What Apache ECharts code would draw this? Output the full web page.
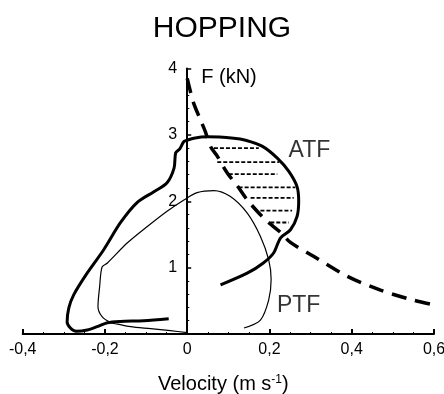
<!DOCTYPE html>
<html>
<head>
<meta charset="utf-8">
<script src="https://cdn.jsdelivr.net/npm/echarts@6/dist/echarts.min.js"></script>
<style>
  html, body { margin: 0; padding: 0; background: #fff; }
  #chart { width: 444px; height: 394px; }
</style>
</head>
<body>
<div id="chart"></div>
<script>
// Force–velocity loops during hopping (velocity in m/s, force in kN)

// Achilles tendon force loop (thick solid)
const atfLoop = [
  [-0.045, 0.23], [-0.106, 0.20], [-0.163, 0.19], [-0.194, 0.17], [-0.219, 0.11],
  [-0.243, 0.06], [-0.270, 0.04], [-0.284, 0.09], [-0.292, 0.18], [-0.288, 0.39],
  [-0.276, 0.59], [-0.243, 0.92], [-0.203, 1.27], [-0.162, 1.68], [-0.122, 1.98],
  [-0.082, 2.14], [-0.049, 2.28], [-0.032, 2.50], [-0.028, 2.73], [-0.018, 2.79],
  [-0.008, 2.90], [0.000, 2.92], [0.016, 2.95], [0.049, 2.97], [0.113, 2.95],
  [0.142, 2.92], [0.182, 2.83], [0.219, 2.65], [0.247, 2.45], [0.267, 2.22],
  [0.271, 2.00], [0.267, 1.77], [0.251, 1.57], [0.227, 1.45], [0.210, 1.22],
  [0.185, 1.07], [0.147, 0.92], [0.081, 0.74]
];

// Patellar tendon force loop (thin solid)
const ptfLoop = [
  [0.138, 0.09], [0.178, 0.21], [0.198, 0.51], [0.204, 0.82], [0.198, 1.12],
  [0.178, 1.47], [0.146, 1.82], [0.105, 2.07], [0.065, 2.16], [0.024, 2.13],
  [-0.008, 2.02], [-0.049, 1.85], [-0.097, 1.62], [-0.146, 1.37], [-0.194, 1.07],
  [-0.207, 1.01], [-0.213, 0.71], [-0.217, 0.41], [-0.207, 0.26], [-0.186, 0.17],
  [-0.170, 0.15], [-0.138, 0.11], [-0.089, 0.08], [-0.041, 0.05], [0.000, 0.02]
];

// Force–velocity relation (thick dashed)
const fvCurve = [
  [0.000, 3.85], [0.015, 3.49], [0.032, 3.23], [0.044, 3.05], [0.057, 2.82],
  [0.073, 2.68], [0.097, 2.43], [0.122, 2.23], [0.146, 2.02], [0.170, 1.85],
  [0.194, 1.70], [0.227, 1.53], [0.251, 1.38], [0.307, 1.17], [0.389, 0.87],
  [0.470, 0.66], [0.550, 0.51], [0.599, 0.44]
];

// Hatching between the relation and the ATF loop: level, left end, right end
const hatchLevels = [2.80, 2.59, 2.41, 2.21, 2.05, 1.86, 1.68];
const hatchLeft   = [0.065, 0.073, 0.101, 0.125, 0.154, 0.178, 0.202];
const hatchRight  = [0.174, 0.223, 0.219, 0.263, 0.259, 0.255, 0.247];

// Curve labels
const curveLabels = [
  { name: 'ATF', value: [0.297, 2.76] },
  { name: 'PTF', value: [0.271, 0.42] }
];

const xTickLabels = ['-0,4', '-0,2', '0', '0,2', '0,4', '0,6'];
const yTickLabels = ['', '1', '2', '3', '4'];

const X_MIN = -0.4, X_MAX = 0.6;
const GRID_LEFT = 22.7, GRID_RIGHT = 10;
const CHART_W = 444;

const hatchData = [];
hatchLevels.forEach((y, i) => {
  hatchData.push([hatchLeft[i], y], [hatchRight[i], y], [null, null]);
});

// The force axis stands at zero velocity, so shift it from the grid edge
const plotW = CHART_W - GRID_LEFT - GRID_RIGHT;
const yAxisShift = plotW * (0 - X_MIN) / (X_MAX - X_MIN);

const FONT = 'Liberation Sans, Arial, sans-serif';
const chart = echarts.init(document.getElementById('chart'), null, { renderer: 'canvas' });

chart.setOption({
  animation: false,
  backgroundColor: '#ffffff',
  title: {
    text: 'HOPPING',
    left: 'center',
    top: 9,
    textStyle: { fontFamily: FONT, fontSize: 30, fontWeight: 'normal', color: '#000' }
  },
  grid: {
    left: GRID_LEFT, right: GRID_RIGHT, top: 68.5, bottom: 60,
    containLabel: false, outerBoundsMode: 'none'
  },
  xAxis: {
    type: 'value',
    min: X_MIN, max: X_MAX, interval: 0.2,
    name: 'Velocity (m s{sup|-1})',
    nameLocation: 'middle',
    nameGap: 40,
    nameTextStyle: {
      fontFamily: FONT, fontSize: 20, color: '#000', padding: [0, 10, 0, 0],
      rich: { sup: { fontFamily: FONT, fontSize: 12, color: '#000', verticalAlign: 'top', padding: [0, 0, 8, 0] } }
    },
    axisLine: { onZero: true, lineStyle: { color: '#000', width: 2 } },
    axisTick: { show: true, inside: true, length: 5, lineStyle: { color: '#000', width: 2 } },
    minorTick: { show: true, splitNumber: 4, length: 2, lineStyle: { color: '#000', width: 1 } },
    splitLine: { show: false },
    axisLabel: {
      fontFamily: FONT, fontSize: 16, color: '#000', margin: 8,
      formatter: (v, i) => xTickLabels[i]
    }
  },
  yAxis: {
    type: 'value',
    min: 0, max: 4, interval: 1,
    position: 'left',
    offset: -yAxisShift,
    name: 'F (kN)',
    nameLocation: 'end',
    nameGap: -9,
    nameTextStyle: {
      fontFamily: FONT, fontSize: 20, color: '#000',
      align: 'left', verticalAlign: 'middle', padding: [0, 0, 0, 14]
    },
    axisLine: { onZero: false, lineStyle: { color: '#000', width: 2 } },
    axisTick: { show: true, inside: true, length: 4, lineStyle: { color: '#000', width: 1.5 } },
    minorTick: { show: true, splitNumber: 5, length: 2, lineStyle: { color: '#000', width: 1 } },
    splitLine: { show: false },
    axisLabel: {
      fontFamily: FONT, fontSize: 16, color: '#000', margin: 10,
      showMinLabel: false,
      formatter: (v, i) => yTickLabels[i]
    }
  },
  series: [
    {
      name: 'PTF', type: 'line', data: ptfLoop, smooth: 0.3,
      showSymbol: false, symbol: 'none',
      lineStyle: { color: '#000', width: 1.2 }
    },
    {
      name: 'ATF', type: 'line', data: atfLoop, smooth: 0.3,
      showSymbol: false, symbol: 'none',
      lineStyle: { color: '#000', width: 3 }
    },
    {
      name: 'F-V', type: 'line', data: fvCurve, smooth: 0.3,
      showSymbol: false, symbol: 'none',
      lineStyle: { color: '#000', width: 3.5, type: [15, 9], cap: 'butt' }
    },
    {
      name: 'hatch', type: 'line', data: hatchData, connectNulls: false,
      showSymbol: false, symbol: 'none',
      lineStyle: { color: '#000', width: 1.8, type: [4, 2] }
    },
    {
      name: 'labels', type: 'scatter', data: curveLabels,
      symbolSize: 0,
      label: {
        show: true, position: 'inside', formatter: p => p.name,
        fontFamily: FONT, fontSize: 23, color: '#000'
      }
    }
  ]
});
</script>
</body>
</html>
